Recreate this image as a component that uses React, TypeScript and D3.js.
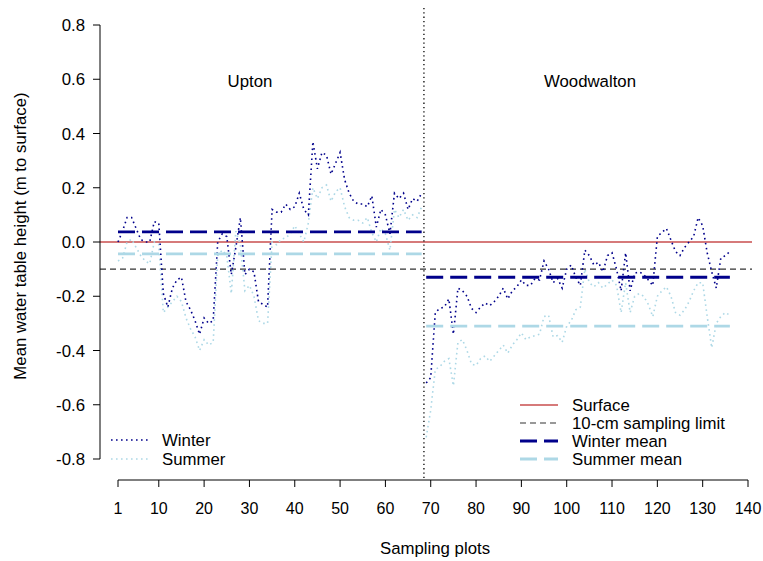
import React from "react";
import * as d3 from "d3";

// ---- data ----
const uptonPlots = d3.range(1, 69);
const woodPlots = d3.range(69, 137);

const uptonWinter = [
  0.0, 0.04, 0.09, 0.09, 0.05, 0.01, 0.0, 0.0, 0.075, 0.07,
  -0.19, -0.24, -0.17, -0.14, -0.13, -0.22, -0.25, -0.29, -0.34, -0.28,
  -0.3, -0.29, 0.0, 0.03, 0.02, -0.12, -0.02, 0.09, -0.12, -0.1,
  -0.11, -0.22, -0.23, -0.24, 0.12, 0.11, 0.11, 0.14, 0.12, 0.13,
  0.18, 0.12, 0.1, 0.37, 0.27, 0.33, 0.32, 0.25, 0.29, 0.33,
  0.23, 0.18, 0.15, 0.14, 0.14, 0.13, 0.17, 0.055, 0.12, 0.1,
  0.03, 0.18, 0.16, 0.18, 0.12, 0.16, 0.15, 0.18,
];
const uptonSummer = [
  -0.07, -0.06, 0.0, 0.01, -0.02, -0.05, -0.07, -0.08, 0.0, -0.01,
  -0.26, -0.24, -0.22, -0.2, -0.22, -0.28, -0.32, -0.35, -0.4, -0.36,
  -0.38, -0.37, -0.05, -0.03, -0.05, -0.19, 0.04, -0.01, -0.18, -0.16,
  -0.2, -0.29, -0.3, -0.3, 0.0, -0.01, 0.01, 0.015, 0.03, 0.06,
  0.03, 0.0, 0.07, 0.2, 0.16, 0.2, 0.21, 0.15, 0.185, 0.2,
  0.13, 0.09, 0.08, 0.08, 0.07, 0.09, 0.035, 0.0, 0.05, 0.03,
  -0.03, 0.12, 0.09, 0.12, 0.08, 0.1, 0.09, 0.13,
];
const woodWinter = [
  -0.52, -0.5, -0.26, -0.245, -0.24, -0.21, -0.34, -0.17, -0.18, -0.2,
  -0.245, -0.26, -0.24, -0.225, -0.235, -0.22, -0.2, -0.17, -0.21, -0.18,
  -0.165, -0.14, -0.16, -0.16, -0.135, -0.14, -0.07, -0.1, -0.15, -0.135,
  -0.17, -0.1, -0.085, -0.13, -0.16, -0.03, -0.05, -0.085, -0.075, -0.11,
  -0.05, -0.04, -0.1, -0.18, -0.04, -0.18, -0.115, -0.11, -0.12, -0.14,
  -0.16, 0.02, 0.035, 0.05, 0.007, -0.035, -0.05, -0.02, 0.0, 0.02,
  0.09, 0.06, -0.04, -0.11, -0.17, -0.06, -0.05, -0.035,
];
const woodSummer = [
  -0.72, -0.62, -0.47, -0.46, -0.44, -0.43, -0.53, -0.37, -0.36, -0.4,
  -0.45, -0.455, -0.43, -0.42, -0.44, -0.42, -0.4, -0.38, -0.41, -0.38,
  -0.36, -0.335, -0.36, -0.35, -0.345, -0.34, -0.275, -0.27, -0.35, -0.345,
  -0.37, -0.31, -0.29, -0.25, -0.24, -0.1, -0.15, -0.165, -0.15, -0.17,
  -0.155, -0.14, -0.16, -0.26, -0.15, -0.26, -0.2, -0.19, -0.2, -0.23,
  -0.275, -0.2, -0.18, -0.165, -0.2, -0.26, -0.27, -0.25, -0.22, -0.18,
  -0.15, -0.15, -0.275, -0.39, -0.3, -0.275, -0.26, -0.27,
];

const winterMeans = [0.037, -0.13];
const summerMeans = [-0.044, -0.31];
const surfaceLevel = 0;
const samplingLimit = -0.1;
const siteNames = ["Upton", "Woodwalton"];
const siteDivider = 68.5;

const xTicks = [1, 10, 20, 30, 40, 50, 60, 70, 80, 90, 100, 110, 120, 130, 140];
const yTicks = [-0.8, -0.6, -0.4, -0.2, 0.0, 0.2, 0.4, 0.6, 0.8];

// ---- styles ----
const FONT = "'Liberation Sans', Arial, Helvetica, sans-serif";
const FS = 16;
const FSL = 16.8;
const WINTER = "#00008B";
const SUMMER = "#ADD8E6";
const SURFACE = "#C84E4E";
const DOT = "1.6 3.4";
const LONGDASH = "17 7";

export default function App() {
  const W = 763, H = 561;
  const x = d3.scaleLinear().domain([1, 140]).range([118, 748]);
  const y = d3.scaleLinear().domain([-0.8, 0.8]).range([459, 25]);
  const regionLeft = 100, regionRight = 752, regionTop = 8, regionBottom = 480;

  const mk = (plots: number[], vals: number[]) =>
    d3.line<number>().x((_, i) => x(plots[i])).y((d) => y(d))(vals) || "";

  const seriesPaths = [
    { d: mk(uptonPlots, uptonSummer), c: SUMMER },
    { d: mk(woodPlots, woodSummer), c: SUMMER },
    { d: mk(uptonPlots, uptonWinter), c: WINTER },
    { d: mk(woodPlots, woodWinter), c: WINTER },
  ];

  const ranges = [
    [uptonPlots[0], uptonPlots[uptonPlots.length - 1]],
    [woodPlots[0], woodPlots[woodPlots.length - 1]],
  ];

  const legL = [
    { t: "Winter", c: WINTER, dash: DOT, w: 1.6 },
    { t: "Summer", c: SUMMER, dash: DOT, w: 1.6 },
  ];
  const legR = [
    { t: "Surface", c: SURFACE, dash: "none", w: 1.5 },
    { t: "10-cm sampling limit", c: "#333", dash: "6 4", w: 1.2 },
    { t: "Winter mean", c: WINTER, dash: LONGDASH, w: 2.8 },
    { t: "Summer mean", c: SUMMER, dash: LONGDASH, w: 2.8 },
  ];
  const legRowsL = [440, 459];
  const legRowsR = [405, 423, 441, 459];

  return (
    <svg width={W} height={H} style={{ position: "absolute", left: 0, top: 0, background: "#fff" }}
      fontFamily={FONT} fontSize={FS}>
      {/* reference lines */}
      <line x1={regionLeft} x2={regionRight} y1={y(surfaceLevel)} y2={y(surfaceLevel)} stroke={SURFACE} strokeWidth={1.5} />
      <line x1={regionLeft} x2={regionRight} y1={y(samplingLimit)} y2={y(samplingLimit)} stroke="#333" strokeWidth={1.2} strokeDasharray="6 4" />
      {/* divider */}
      <line x1={x(siteDivider)} x2={x(siteDivider)} y1={regionTop} y2={regionBottom} stroke="#000" strokeWidth={1.3} strokeDasharray="1.3 3" />

      {seriesPaths.map((s, i) => (
        <path key={i} d={s.d} fill="none" stroke={s.c} strokeWidth={1.6} strokeDasharray={DOT} />
      ))}

      {ranges.map((r, i) => (
        <g key={i}>
          <line x1={x(r[0])} x2={x(r[1])} y1={y(winterMeans[i])} y2={y(winterMeans[i])} stroke={WINTER} strokeWidth={2.8} strokeDasharray={LONGDASH} />
          <line x1={x(r[0])} x2={x(r[1])} y1={y(summerMeans[i])} y2={y(summerMeans[i])} stroke={SUMMER} strokeWidth={2.8} strokeDasharray={LONGDASH} />
        </g>
      ))}

      {/* site labels */}
      <text x={250} y={y(0.6) + 8} textAnchor="middle" fontSize={FSL}>{siteNames[0]}</text>
      <text x={590} y={y(0.6) + 8} textAnchor="middle" fontSize={FSL}>{siteNames[1]}</text>

      {/* y axis */}
      <line x1={regionLeft} x2={regionLeft} y1={y(0.8)} y2={y(-0.8)} stroke="#000" />
      {yTicks.map((t) => (
        <g key={t}>
          <line x1={regionLeft - 7} x2={regionLeft} y1={y(t)} y2={y(t)} stroke="#000" />
          <text x={85} y={y(t) + 6} textAnchor="end" fontSize={FSL}>{t.toFixed(1)}</text>
        </g>
      ))}
      <text transform={`translate(20, ${(y(0.8) + y(-0.8)) / 2 - 6}) rotate(-90)`} textAnchor="middle" dominantBaseline="central" fontSize={FSL}>
        Mean water table height (m to surface)
      </text>

      {/* x axis */}
      <line x1={x(1)} x2={x(140)} y1={regionBottom} y2={regionBottom} stroke="#000" />
      {xTicks.map((t) => (
        <g key={t}>
          <line x1={x(t)} x2={x(t)} y1={regionBottom} y2={regionBottom + 7} stroke="#000" />
          <text x={x(t)} y={514} textAnchor="middle">{t}</text>
        </g>
      ))}
      <text x={(regionLeft + regionRight) / 2 + 9} y={554} textAnchor="middle" fontSize={FSL}>Sampling plots</text>

      {/* legends */}
      {legL.map((l, i) => (
        <g key={l.t}>
          <line x1={111} x2={149} y1={legRowsL[i]} y2={legRowsL[i]} stroke={l.c} strokeWidth={l.w} strokeDasharray={l.dash} />
          <text x={162} y={legRowsL[i] + 6} fontSize={FSL}>{l.t}</text>
        </g>
      ))}
      {legR.map((l, i) => (
        <g key={l.t}>
          <line x1={520} x2={558} y1={legRowsR[i]} y2={legRowsR[i]} stroke={l.c} strokeWidth={l.w} strokeDasharray={l.dash} />
          <text x={572} y={legRowsR[i] + 6} fontSize={FSL}>{l.t}</text>
        </g>
      ))}
    </svg>
  );
}
